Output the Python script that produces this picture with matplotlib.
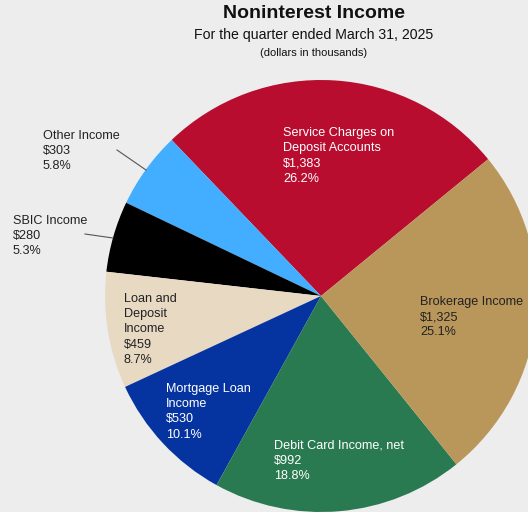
import matplotlib
matplotlib.use("Agg")
import matplotlib.pyplot as plt

plt.rcParams['font.family'] = ['Liberation Sans', 'DejaVu Sans']

categories = ["Service Charges on\nDeposit Accounts", "Other Income", "SBIC Income",
              "Loan and\nDeposit\nIncome", "Mortgage Loan\nIncome",
              "Debit Card Income, net", "Brokerage Income"]
values = [1383, 303, 280, 459, 530, 992, 1325]
percents = [26.2, 5.8, 5.3, 8.7, 10.1, 18.8, 25.1]
colors = ["#B90D30", "#43AEFF", "#000000", "#E8D9C3", "#0534A0", "#2A7A51", "#B9975B"]
text_colors = ["white", "#222222", "#222222", "#222222", "white", "white", "#222222"]

# label anchor (left, top of first line) in pixels from the top-left of the figure
label_xy = [(283, 127), (43, 130), (13, 215), (124, 293), (166, 383), (274, 440), (420, 296)]

W, H = 528, 512
fig = plt.figure(figsize=(W / 100, H / 100), dpi=100)
fig.patch.set_facecolor("#EDEDED")

cx, cy, r = 321, 296, 216
ax = fig.add_axes([(cx - r) / W, (H - cy - r) / H, 2 * r / W, 2 * r / H])
ax.set_facecolor("none")
ax.pie(values, colors=colors, startangle=39.3, counterclock=True, radius=1,
       wedgeprops=dict(linewidth=0))
ax.set_xlim(-1, 1)
ax.set_ylim(-1, 1)
ax.set_aspect("equal")
ax.axis("off")

for name, v, pct, (px, py), tc in zip(categories, values, percents, label_xy, text_colors):
    txt = f"{name}\n${v:,}\n{pct:.1f}%"
    fig.text(px / W, 1 - py / H, txt, ha="left", va="top", fontsize=9.1,
             color=tc, linespacing=1.36)

# leader lines for the two small slices
fig.add_artist(plt.Line2D([117 / W, 146 / W], [1 - 150 / H, 1 - 170 / H],
                          color="#555555", lw=0.8))
fig.add_artist(plt.Line2D([85 / W, 113 / W], [1 - 234 / H, 1 - 238 / H],
                          color="#555555", lw=0.8))

fig.text(314 / W, 1 - 14 / H, "Noninterest Income", ha="center", va="center",
         fontsize=14, fontweight="bold", color="#111111")
fig.text(314 / W, 1 - 35 / H, "For the quarter ended March 31, 2025", ha="center",
         va="center", fontsize=10.2, color="#111111")
fig.text(314 / W, 1 - 53 / H, "(dollars in thousands)", ha="center", va="center",
         fontsize=8, color="#111111")

fig.savefig("out.png", dpi=100, facecolor=fig.get_facecolor())
